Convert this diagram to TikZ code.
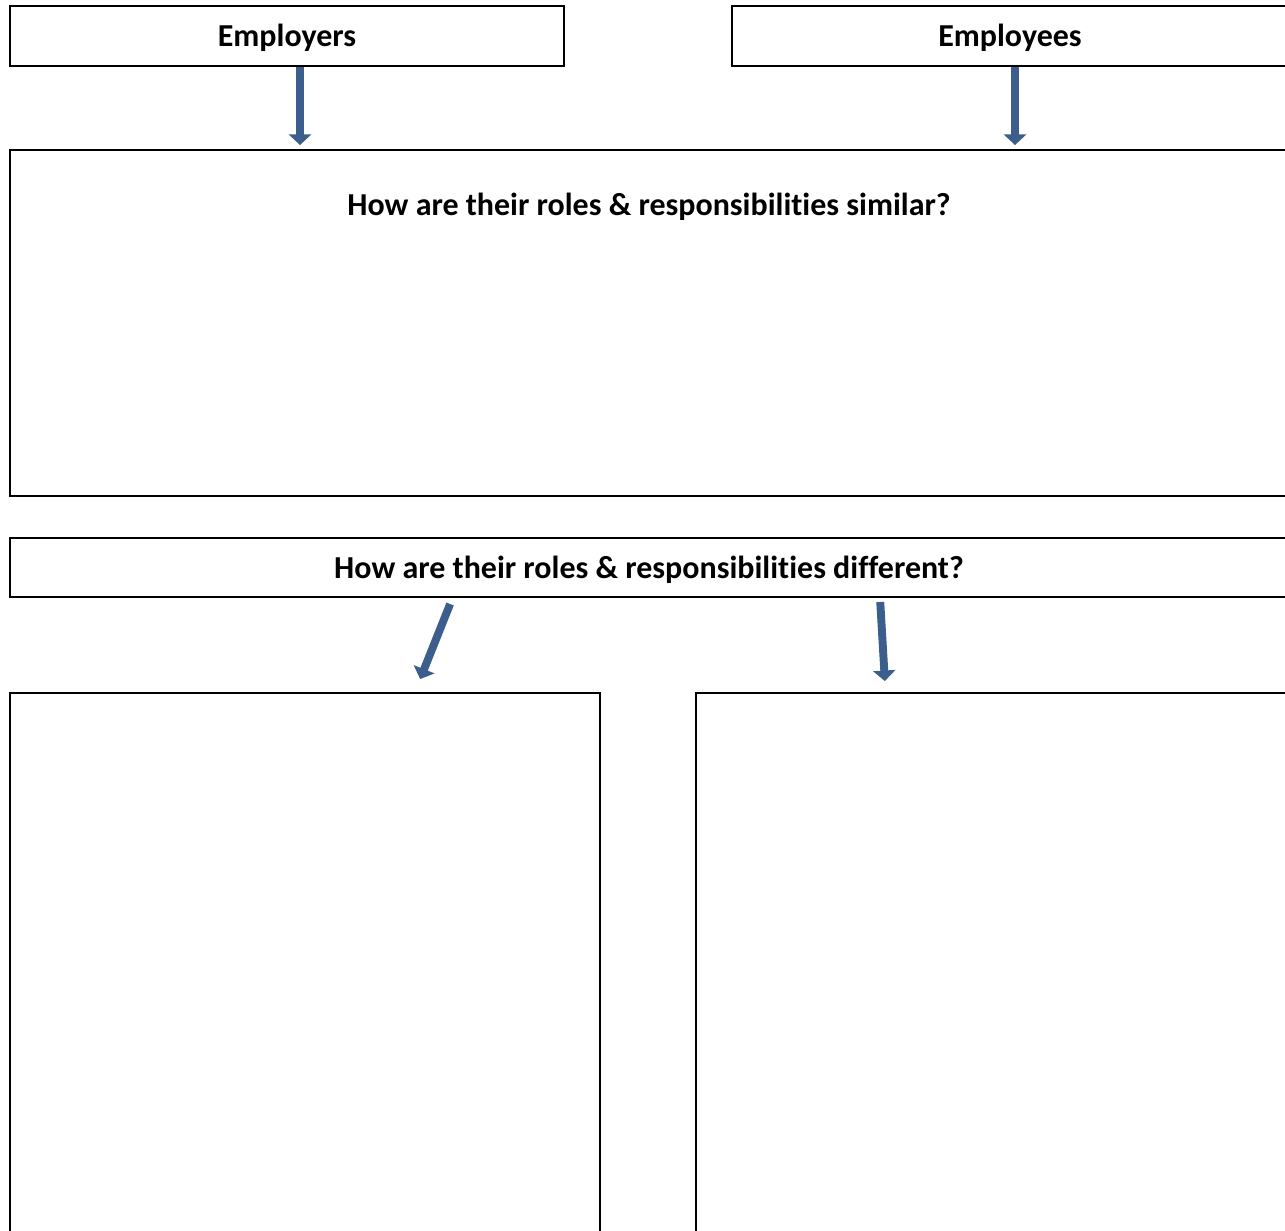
\documentclass[tikz,border=0pt]{standalone}
\usepackage{fontspec}
\setmainfont[Ligatures=NoCommon]{Carlito}
\usetikzlibrary{arrows.meta, positioning, calc}

\definecolor{arrowblue}{RGB}{59,94,140}

\begin{document}
\begin{tikzpicture}[
    box/.style={draw, line width=1.1pt, inner sep=0pt, text height=0.6cm, text depth=0.16cm, font=\bfseries\fontsize{18.2}{22}\selectfont},
    heading/.style={font=\bfseries\fontsize{18.2}{22}\selectfont},
    bluearrow/.style={line width=4.5pt, draw=arrowblue, -{Triangle[width=12.5pt,length=6pt]}}
]
\useasboundingbox (0, 0) rectangle (25.7, -24.6);
\clip (0, 0) rectangle (25.7, -24.6);
% top row
\node[box, minimum width=11.08cm, minimum height=1.2cm] (employers) at (5.74, -0.72) {Employers};
\node[box, minimum width=11.12cm, minimum height=1.2cm] (employees) at (20.2, -0.72) {Employees};
% similar
\node[box, minimum width=25.56cm, minimum height=6.92cm] (sim) at (12.98, -6.46) {};
\node[heading] (simtitle) at ($(sim.north)+(0, -1.16)$) {How are their roles \& responsibilities similar?};
% different
\node[box, minimum width=25.56cm, minimum height=1.18cm] (diff) at (12.98, -11.35) {How are their roles \& responsibilities different?};
\node[box, minimum width=11.8cm, minimum height=11.2cm] (left) at (6.1, -19.46) {};
\node[box, minimum width=11.84cm, minimum height=11.2cm] (right) at (19.84, -19.46) {};
% arrows
\draw[bluearrow, shorten >=0.08cm] (employers.south -| 6, 0) -- (sim.north -| 6, 0);
\draw[bluearrow, shorten >=0.08cm] (employees.south -| 20.3, 0) -- (sim.north -| 20.3, 0);
\draw[bluearrow, shorten <=0.13cm, shorten >=0.28cm] (diff.south -| 9.05, 0) -- (left.north -| 8.3, 0);
\draw[bluearrow, shorten <=0.08cm, shorten >=0.22cm] (diff.south -| 17.6, 0) -- (right.north -| 17.71, 0);
\end{tikzpicture}
\end{document}
